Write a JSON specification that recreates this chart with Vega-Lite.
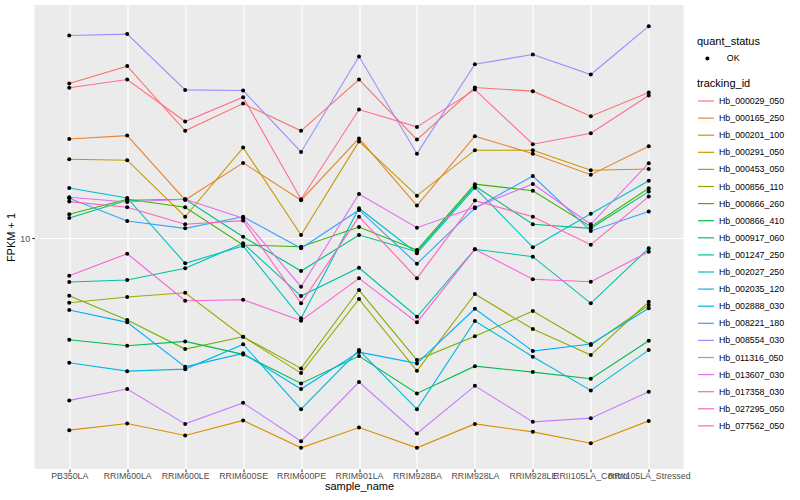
{
"$schema": "https://vega.github.io/schema/vega-lite/v6.json",
"width": 649, "height": 464,
"autosize": {"type": "none"},
"padding": {"left": 34.5, "top": 5, "right": 116.5, "bottom": 31},
"background": "white",
"datasets": {"fpkm": [
{"tracking_id":"Hb_000029_050","sample_name":"PB350LA","fpkm":24.35,"quant_status":"OK"},
{"tracking_id":"Hb_000029_050","sample_name":"RRIM600LA","fpkm":26.92,"quant_status":"OK"},
{"tracking_id":"Hb_000029_050","sample_name":"RRIM600LE","fpkm":18.55,"quant_status":"OK"},
{"tracking_id":"Hb_000029_050","sample_name":"RRIM600SE","fpkm":21.70,"quant_status":"OK"},
{"tracking_id":"Hb_000029_050","sample_name":"RRIM600PE","fpkm":18.55,"quant_status":"OK"},
{"tracking_id":"Hb_000029_050","sample_name":"RRIM901LA","fpkm":24.92,"quant_status":"OK"},
{"tracking_id":"Hb_000029_050","sample_name":"RRIM928BA","fpkm":17.64,"quant_status":"OK"},
{"tracking_id":"Hb_000029_050","sample_name":"RRIM928LA","fpkm":23.80,"quant_status":"OK"},
{"tracking_id":"Hb_000029_050","sample_name":"RRIM928LE","fpkm":23.31,"quant_status":"OK"},
{"tracking_id":"Hb_000029_050","sample_name":"RRII105LA_Control","fpkm":20.19,"quant_status":"OK"},
{"tracking_id":"Hb_000029_050","sample_name":"RRII105LA_Stressed","fpkm":23.12,"quant_status":"OK"},
{"tracking_id":"Hb_000165_250","sample_name":"PB350LA","fpkm":17.71,"quant_status":"OK"},
{"tracking_id":"Hb_000165_250","sample_name":"RRIM600LA","fpkm":18.05,"quant_status":"OK"},
{"tracking_id":"Hb_000165_250","sample_name":"RRIM600LE","fpkm":12.47,"quant_status":"OK"},
{"tracking_id":"Hb_000165_250","sample_name":"RRIM600SE","fpkm":15.43,"quant_status":"OK"},
{"tracking_id":"Hb_000165_250","sample_name":"RRIM600PE","fpkm":12.45,"quant_status":"OK"},
{"tracking_id":"Hb_000165_250","sample_name":"RRIM901LA","fpkm":17.76,"quant_status":"OK"},
{"tracking_id":"Hb_000165_250","sample_name":"RRIM928BA","fpkm":12.07,"quant_status":"OK"},
{"tracking_id":"Hb_000165_250","sample_name":"RRIM928LA","fpkm":17.99,"quant_status":"OK"},
{"tracking_id":"Hb_000165_250","sample_name":"RRIM928LE","fpkm":16.27,"quant_status":"OK"},
{"tracking_id":"Hb_000165_250","sample_name":"RRII105LA_Control","fpkm":14.42,"quant_status":"OK"},
{"tracking_id":"Hb_000165_250","sample_name":"RRII105LA_Stressed","fpkm":16.98,"quant_status":"OK"},
{"tracking_id":"Hb_000201_100","sample_name":"PB350LA","fpkm":3.317,"quant_status":"OK"},
{"tracking_id":"Hb_000201_100","sample_name":"RRIM600LA","fpkm":3.447,"quant_status":"OK"},
{"tracking_id":"Hb_000201_100","sample_name":"RRIM600LE","fpkm":3.218,"quant_status":"OK"},
{"tracking_id":"Hb_000201_100","sample_name":"RRIM600SE","fpkm":3.508,"quant_status":"OK"},
{"tracking_id":"Hb_000201_100","sample_name":"RRIM600PE","fpkm":2.996,"quant_status":"OK"},
{"tracking_id":"Hb_000201_100","sample_name":"RRIM901LA","fpkm":3.369,"quant_status":"OK"},
{"tracking_id":"Hb_000201_100","sample_name":"RRIM928BA","fpkm":2.996,"quant_status":"OK"},
{"tracking_id":"Hb_000201_100","sample_name":"RRIM928LA","fpkm":3.439,"quant_status":"OK"},
{"tracking_id":"Hb_000201_100","sample_name":"RRIM928LE","fpkm":3.285,"quant_status":"OK"},
{"tracking_id":"Hb_000201_100","sample_name":"RRII105LA_Control","fpkm":3.078,"quant_status":"OK"},
{"tracking_id":"Hb_000201_100","sample_name":"RRII105LA_Stressed","fpkm":3.499,"quant_status":"OK"},
{"tracking_id":"Hb_000291_050","sample_name":"PB350LA","fpkm":15.76,"quant_status":"OK"},
{"tracking_id":"Hb_000291_050","sample_name":"RRIM600LA","fpkm":15.67,"quant_status":"OK"},
{"tracking_id":"Hb_000291_050","sample_name":"RRIM600LE","fpkm":11.32,"quant_status":"OK"},
{"tracking_id":"Hb_000291_050","sample_name":"RRIM600SE","fpkm":16.85,"quant_status":"OK"},
{"tracking_id":"Hb_000291_050","sample_name":"RRIM600PE","fpkm":10.19,"quant_status":"OK"},
{"tracking_id":"Hb_000291_050","sample_name":"RRIM901LA","fpkm":17.46,"quant_status":"OK"},
{"tracking_id":"Hb_000291_050","sample_name":"RRIM928BA","fpkm":12.78,"quant_status":"OK"},
{"tracking_id":"Hb_000291_050","sample_name":"RRIM928LA","fpkm":16.60,"quant_status":"OK"},
{"tracking_id":"Hb_000291_050","sample_name":"RRIM928LE","fpkm":16.60,"quant_status":"OK"},
{"tracking_id":"Hb_000291_050","sample_name":"RRII105LA_Control","fpkm":14.79,"quant_status":"OK"},
{"tracking_id":"Hb_000291_050","sample_name":"RRII105LA_Stressed","fpkm":14.90,"quant_status":"OK"},
{"tracking_id":"Hb_000453_050","sample_name":"PB350LA","fpkm":6.902,"quant_status":"OK"},
{"tracking_id":"Hb_000453_050","sample_name":"RRIM600LA","fpkm":7.133,"quant_status":"OK"},
{"tracking_id":"Hb_000453_050","sample_name":"RRIM600LE","fpkm":7.312,"quant_status":"OK"},
{"tracking_id":"Hb_000453_050","sample_name":"RRIM600SE","fpkm":5.675,"quant_status":"OK"},
{"tracking_id":"Hb_000453_050","sample_name":"RRIM600PE","fpkm":4.605,"quant_status":"OK"},
{"tracking_id":"Hb_000453_050","sample_name":"RRIM901LA","fpkm":7.051,"quant_status":"OK"},
{"tracking_id":"Hb_000453_050","sample_name":"RRIM928BA","fpkm":4.666,"quant_status":"OK"},
{"tracking_id":"Hb_000453_050","sample_name":"RRIM928LA","fpkm":7.257,"quant_status":"OK"},
{"tracking_id":"Hb_000453_050","sample_name":"RRIM928LE","fpkm":5.933,"quant_status":"OK"},
{"tracking_id":"Hb_000453_050","sample_name":"RRII105LA_Control","fpkm":5.109,"quant_status":"OK"},
{"tracking_id":"Hb_000453_050","sample_name":"RRII105LA_Stressed","fpkm":6.942,"quant_status":"OK"},
{"tracking_id":"Hb_000856_110","sample_name":"PB350LA","fpkm":7.186,"quant_status":"OK"},
{"tracking_id":"Hb_000856_110","sample_name":"RRIM600LA","fpkm":6.249,"quant_status":"OK"},
{"tracking_id":"Hb_000856_110","sample_name":"RRIM600LE","fpkm":5.288,"quant_status":"OK"},
{"tracking_id":"Hb_000856_110","sample_name":"RRIM600SE","fpkm":5.675,"quant_status":"OK"},
{"tracking_id":"Hb_000856_110","sample_name":"RRIM600PE","fpkm":4.732,"quant_status":"OK"},
{"tracking_id":"Hb_000856_110","sample_name":"RRIM901LA","fpkm":7.426,"quant_status":"OK"},
{"tracking_id":"Hb_000856_110","sample_name":"RRIM928BA","fpkm":4.964,"quant_status":"OK"},
{"tracking_id":"Hb_000856_110","sample_name":"RRIM928LA","fpkm":5.689,"quant_status":"OK"},
{"tracking_id":"Hb_000856_110","sample_name":"RRIM928LE","fpkm":6.581,"quant_status":"OK"},
{"tracking_id":"Hb_000856_110","sample_name":"RRII105LA_Control","fpkm":5.411,"quant_status":"OK"},
{"tracking_id":"Hb_000856_110","sample_name":"RRII105LA_Stressed","fpkm":6.812,"quant_status":"OK"},
{"tracking_id":"Hb_000866_260","sample_name":"PB350LA","fpkm":11.48,"quant_status":"OK"},
{"tracking_id":"Hb_000866_260","sample_name":"RRIM600LA","fpkm":12.52,"quant_status":"OK"},
{"tracking_id":"Hb_000866_260","sample_name":"RRIM600LE","fpkm":11.96,"quant_status":"OK"},
{"tracking_id":"Hb_000866_260","sample_name":"RRIM600SE","fpkm":9.622,"quant_status":"OK"},
{"tracking_id":"Hb_000866_260","sample_name":"RRIM600PE","fpkm":9.528,"quant_status":"OK"},
{"tracking_id":"Hb_000866_260","sample_name":"RRIM901LA","fpkm":10.67,"quant_status":"OK"},
{"tracking_id":"Hb_000866_260","sample_name":"RRIM928BA","fpkm":9.349,"quant_status":"OK"},
{"tracking_id":"Hb_000866_260","sample_name":"RRIM928LA","fpkm":13.65,"quant_status":"OK"},
{"tracking_id":"Hb_000866_260","sample_name":"RRIM928LE","fpkm":13.15,"quant_status":"OK"},
{"tracking_id":"Hb_000866_260","sample_name":"RRII105LA_Control","fpkm":10.69,"quant_status":"OK"},
{"tracking_id":"Hb_000866_260","sample_name":"RRII105LA_Stressed","fpkm":13.34,"quant_status":"OK"},
{"tracking_id":"Hb_000866_410","sample_name":"PB350LA","fpkm":5.578,"quant_status":"OK"},
{"tracking_id":"Hb_000866_410","sample_name":"RRIM600LA","fpkm":5.389,"quant_status":"OK"},
{"tracking_id":"Hb_000866_410","sample_name":"RRIM600LE","fpkm":5.527,"quant_status":"OK"},
{"tracking_id":"Hb_000866_410","sample_name":"RRIM600SE","fpkm":5.129,"quant_status":"OK"},
{"tracking_id":"Hb_000866_410","sample_name":"RRIM600PE","fpkm":4.340,"quant_status":"OK"},
{"tracking_id":"Hb_000866_410","sample_name":"RRIM901LA","fpkm":5.079,"quant_status":"OK"},
{"tracking_id":"Hb_000866_410","sample_name":"RRIM928BA","fpkm":4.098,"quant_status":"OK"},
{"tracking_id":"Hb_000866_410","sample_name":"RRIM928LA","fpkm":4.794,"quant_status":"OK"},
{"tracking_id":"Hb_000866_410","sample_name":"RRIM928LE","fpkm":4.632,"quant_status":"OK"},
{"tracking_id":"Hb_000866_410","sample_name":"RRII105LA_Control","fpkm":4.457,"quant_status":"OK"},
{"tracking_id":"Hb_000866_410","sample_name":"RRII105LA_Stressed","fpkm":5.546,"quant_status":"OK"},
{"tracking_id":"Hb_000917_060","sample_name":"PB350LA","fpkm":11.24,"quant_status":"OK"},
{"tracking_id":"Hb_000917_060","sample_name":"RRIM600LA","fpkm":12.45,"quant_status":"OK"},
{"tracking_id":"Hb_000917_060","sample_name":"RRIM600LE","fpkm":12.52,"quant_status":"OK"},
{"tracking_id":"Hb_000917_060","sample_name":"RRIM600SE","fpkm":10.09,"quant_status":"OK"},
{"tracking_id":"Hb_000917_060","sample_name":"RRIM600PE","fpkm":8.285,"quant_status":"OK"},
{"tracking_id":"Hb_000917_060","sample_name":"RRIM901LA","fpkm":10.19,"quant_status":"OK"},
{"tracking_id":"Hb_000917_060","sample_name":"RRIM928BA","fpkm":9.258,"quant_status":"OK"},
{"tracking_id":"Hb_000917_060","sample_name":"RRIM928LA","fpkm":13.51,"quant_status":"OK"},
{"tracking_id":"Hb_000917_060","sample_name":"RRIM928LE","fpkm":10.84,"quant_status":"OK"},
{"tracking_id":"Hb_000917_060","sample_name":"RRII105LA_Control","fpkm":10.59,"quant_status":"OK"},
{"tracking_id":"Hb_000917_060","sample_name":"RRII105LA_Stressed","fpkm":13.08,"quant_status":"OK"},
{"tracking_id":"Hb_001247_250","sample_name":"PB350LA","fpkm":7.776,"quant_status":"OK"},
{"tracking_id":"Hb_001247_250","sample_name":"RRIM600LA","fpkm":7.866,"quant_status":"OK"},
{"tracking_id":"Hb_001247_250","sample_name":"RRIM600LE","fpkm":8.414,"quant_status":"OK"},
{"tracking_id":"Hb_001247_250","sample_name":"RRIM600SE","fpkm":9.717,"quant_status":"OK"},
{"tracking_id":"Hb_001247_250","sample_name":"RRIM600PE","fpkm":7.174,"quant_status":"OK"},
{"tracking_id":"Hb_001247_250","sample_name":"RRIM901LA","fpkm":8.443,"quant_status":"OK"},
{"tracking_id":"Hb_001247_250","sample_name":"RRIM928BA","fpkm":6.369,"quant_status":"OK"},
{"tracking_id":"Hb_001247_250","sample_name":"RRIM928LA","fpkm":9.387,"quant_status":"OK"},
{"tracking_id":"Hb_001247_250","sample_name":"RRIM928LE","fpkm":8.996,"quant_status":"OK"},
{"tracking_id":"Hb_001247_250","sample_name":"RRII105LA_Control","fpkm":6.879,"quant_status":"OK"},
{"tracking_id":"Hb_001247_250","sample_name":"RRII105LA_Stressed","fpkm":9.442,"quant_status":"OK"},
{"tracking_id":"Hb_002027_250","sample_name":"PB350LA","fpkm":13.36,"quant_status":"OK"},
{"tracking_id":"Hb_002027_250","sample_name":"RRIM600LA","fpkm":12.61,"quant_status":"OK"},
{"tracking_id":"Hb_002027_250","sample_name":"RRIM600LE","fpkm":8.660,"quant_status":"OK"},
{"tracking_id":"Hb_002027_250","sample_name":"RRIM600SE","fpkm":9.567,"quant_status":"OK"},
{"tracking_id":"Hb_002027_250","sample_name":"RRIM600PE","fpkm":6.310,"quant_status":"OK"},
{"tracking_id":"Hb_002027_250","sample_name":"RRIM901LA","fpkm":11.89,"quant_status":"OK"},
{"tracking_id":"Hb_002027_250","sample_name":"RRIM928BA","fpkm":9.173,"quant_status":"OK"},
{"tracking_id":"Hb_002027_250","sample_name":"RRIM928LA","fpkm":13.38,"quant_status":"OK"},
{"tracking_id":"Hb_002027_250","sample_name":"RRIM928LE","fpkm":9.496,"quant_status":"OK"},
{"tracking_id":"Hb_002027_250","sample_name":"RRII105LA_Control","fpkm":11.52,"quant_status":"OK"},
{"tracking_id":"Hb_002027_250","sample_name":"RRII105LA_Stressed","fpkm":13.93,"quant_status":"OK"},
{"tracking_id":"Hb_002035_120","sample_name":"PB350LA","fpkm":4.887,"quant_status":"OK"},
{"tracking_id":"Hb_002035_120","sample_name":"RRIM600LA","fpkm":4.658,"quant_status":"OK"},
{"tracking_id":"Hb_002035_120","sample_name":"RRIM600LE","fpkm":4.712,"quant_status":"OK"},
{"tracking_id":"Hb_002035_120","sample_name":"RRIM600SE","fpkm":5.433,"quant_status":"OK"},
{"tracking_id":"Hb_002035_120","sample_name":"RRIM600PE","fpkm":3.743,"quant_status":"OK"},
{"tracking_id":"Hb_002035_120","sample_name":"RRIM901LA","fpkm":5.257,"quant_status":"OK"},
{"tracking_id":"Hb_002035_120","sample_name":"RRIM928BA","fpkm":3.743,"quant_status":"OK"},
{"tracking_id":"Hb_002035_120","sample_name":"RRIM928LA","fpkm":6.213,"quant_status":"OK"},
{"tracking_id":"Hb_002035_120","sample_name":"RRIM928LE","fpkm":5.059,"quant_status":"OK"},
{"tracking_id":"Hb_002035_120","sample_name":"RRII105LA_Control","fpkm":4.169,"quant_status":"OK"},
{"tracking_id":"Hb_002035_120","sample_name":"RRII105LA_Stressed","fpkm":5.257,"quant_status":"OK"},
{"tracking_id":"Hb_002888_030","sample_name":"PB350LA","fpkm":6.619,"quant_status":"OK"},
{"tracking_id":"Hb_002888_030","sample_name":"RRIM600LA","fpkm":6.166,"quant_status":"OK"},
{"tracking_id":"Hb_002888_030","sample_name":"RRIM600LE","fpkm":4.775,"quant_status":"OK"},
{"tracking_id":"Hb_002888_030","sample_name":"RRIM600SE","fpkm":5.159,"quant_status":"OK"},
{"tracking_id":"Hb_002888_030","sample_name":"RRIM600PE","fpkm":4.201,"quant_status":"OK"},
{"tracking_id":"Hb_002888_030","sample_name":"RRIM901LA","fpkm":5.197,"quant_status":"OK"},
{"tracking_id":"Hb_002888_030","sample_name":"RRIM928BA","fpkm":4.870,"quant_status":"OK"},
{"tracking_id":"Hb_002888_030","sample_name":"RRIM928LA","fpkm":6.669,"quant_status":"OK"},
{"tracking_id":"Hb_002888_030","sample_name":"RRIM928LE","fpkm":5.227,"quant_status":"OK"},
{"tracking_id":"Hb_002888_030","sample_name":"RRII105LA_Control","fpkm":5.442,"quant_status":"OK"},
{"tracking_id":"Hb_002888_030","sample_name":"RRII105LA_Stressed","fpkm":6.684,"quant_status":"OK"},
{"tracking_id":"Hb_008221_180","sample_name":"PB350LA","fpkm":12.59,"quant_status":"OK"},
{"tracking_id":"Hb_008221_180","sample_name":"RRIM600LA","fpkm":11.05,"quant_status":"OK"},
{"tracking_id":"Hb_008221_180","sample_name":"RRIM600LE","fpkm":10.59,"quant_status":"OK"},
{"tracking_id":"Hb_008221_180","sample_name":"RRIM600SE","fpkm":11.32,"quant_status":"OK"},
{"tracking_id":"Hb_008221_180","sample_name":"RRIM600PE","fpkm":9.442,"quant_status":"OK"},
{"tracking_id":"Hb_008221_180","sample_name":"RRIM901LA","fpkm":11.77,"quant_status":"OK"},
{"tracking_id":"Hb_008221_180","sample_name":"RRIM928BA","fpkm":8.640,"quant_status":"OK"},
{"tracking_id":"Hb_008221_180","sample_name":"RRIM928LA","fpkm":11.89,"quant_status":"OK"},
{"tracking_id":"Hb_008221_180","sample_name":"RRIM928LE","fpkm":14.31,"quant_status":"OK"},
{"tracking_id":"Hb_008221_180","sample_name":"RRII105LA_Control","fpkm":10.43,"quant_status":"OK"},
{"tracking_id":"Hb_008221_180","sample_name":"RRII105LA_Stressed","fpkm":11.66,"quant_status":"OK"},
{"tracking_id":"Hb_008554_030","sample_name":"PB350LA","fpkm":32.10,"quant_status":"OK"},
{"tracking_id":"Hb_008554_030","sample_name":"RRIM600LA","fpkm":32.36,"quant_status":"OK"},
{"tracking_id":"Hb_008554_030","sample_name":"RRIM600LE","fpkm":23.48,"quant_status":"OK"},
{"tracking_id":"Hb_008554_030","sample_name":"RRIM600SE","fpkm":23.39,"quant_status":"OK"},
{"tracking_id":"Hb_008554_030","sample_name":"RRIM600PE","fpkm":16.43,"quant_status":"OK"},
{"tracking_id":"Hb_008554_030","sample_name":"RRIM901LA","fpkm":28.45,"quant_status":"OK"},
{"tracking_id":"Hb_008554_030","sample_name":"RRIM928BA","fpkm":16.27,"quant_status":"OK"},
{"tracking_id":"Hb_008554_030","sample_name":"RRIM928LA","fpkm":27.23,"quant_status":"OK"},
{"tracking_id":"Hb_008554_030","sample_name":"RRIM928LE","fpkm":28.77,"quant_status":"OK"},
{"tracking_id":"Hb_008554_030","sample_name":"RRII105LA_Control","fpkm":25.65,"quant_status":"OK"},
{"tracking_id":"Hb_008554_030","sample_name":"RRII105LA_Stressed","fpkm":33.88,"quant_status":"OK"},
{"tracking_id":"Hb_011316_050","sample_name":"PB350LA","fpkm":3.936,"quant_status":"OK"},
{"tracking_id":"Hb_011316_050","sample_name":"RRIM600LA","fpkm":4.201,"quant_status":"OK"},
{"tracking_id":"Hb_011316_050","sample_name":"RRIM600LE","fpkm":3.439,"quant_status":"OK"},
{"tracking_id":"Hb_011316_050","sample_name":"RRIM600SE","fpkm":3.881,"quant_status":"OK"},
{"tracking_id":"Hb_011316_050","sample_name":"RRIM600PE","fpkm":3.113,"quant_status":"OK"},
{"tracking_id":"Hb_011316_050","sample_name":"RRIM901LA","fpkm":4.373,"quant_status":"OK"},
{"tracking_id":"Hb_011316_050","sample_name":"RRIM928BA","fpkm":3.255,"quant_status":"OK"},
{"tracking_id":"Hb_011316_050","sample_name":"RRIM928LA","fpkm":4.281,"quant_status":"OK"},
{"tracking_id":"Hb_011316_050","sample_name":"RRIM928LE","fpkm":3.479,"quant_status":"OK"},
{"tracking_id":"Hb_011316_050","sample_name":"RRII105LA_Control","fpkm":3.554,"quant_status":"OK"},
{"tracking_id":"Hb_011316_050","sample_name":"RRII105LA_Stressed","fpkm":4.136,"quant_status":"OK"},
{"tracking_id":"Hb_013607_030","sample_name":"PB350LA","fpkm":12.66,"quant_status":"OK"},
{"tracking_id":"Hb_013607_030","sample_name":"RRIM600LA","fpkm":12.32,"quant_status":"OK"},
{"tracking_id":"Hb_013607_030","sample_name":"RRIM600LE","fpkm":12.52,"quant_status":"OK"},
{"tracking_id":"Hb_013607_030","sample_name":"RRIM600SE","fpkm":11.22,"quant_status":"OK"},
{"tracking_id":"Hb_013607_030","sample_name":"RRIM600PE","fpkm":7.569,"quant_status":"OK"},
{"tracking_id":"Hb_013607_030","sample_name":"RRIM901LA","fpkm":12.90,"quant_status":"OK"},
{"tracking_id":"Hb_013607_030","sample_name":"RRIM928BA","fpkm":10.63,"quant_status":"OK"},
{"tracking_id":"Hb_013607_030","sample_name":"RRIM928LA","fpkm":11.96,"quant_status":"OK"},
{"tracking_id":"Hb_013607_030","sample_name":"RRIM928LE","fpkm":13.67,"quant_status":"OK"},
{"tracking_id":"Hb_013607_030","sample_name":"RRII105LA_Control","fpkm":10.84,"quant_status":"OK"},
{"tracking_id":"Hb_013607_030","sample_name":"RRII105LA_Stressed","fpkm":15.40,"quant_status":"OK"},
{"tracking_id":"Hb_017358_030","sample_name":"PB350LA","fpkm":8.063,"quant_status":"OK"},
{"tracking_id":"Hb_017358_030","sample_name":"RRIM600LA","fpkm":9.152,"quant_status":"OK"},
{"tracking_id":"Hb_017358_030","sample_name":"RRIM600LE","fpkm":6.982,"quant_status":"OK"},
{"tracking_id":"Hb_017358_030","sample_name":"RRIM600SE","fpkm":7.023,"quant_status":"OK"},
{"tracking_id":"Hb_017358_030","sample_name":"RRIM600PE","fpkm":6.224,"quant_status":"OK"},
{"tracking_id":"Hb_017358_030","sample_name":"RRIM901LA","fpkm":7.943,"quant_status":"OK"},
{"tracking_id":"Hb_017358_030","sample_name":"RRIM928BA","fpkm":6.166,"quant_status":"OK"},
{"tracking_id":"Hb_017358_030","sample_name":"RRIM928LA","fpkm":9.387,"quant_status":"OK"},
{"tracking_id":"Hb_017358_030","sample_name":"RRIM928LE","fpkm":7.898,"quant_status":"OK"},
{"tracking_id":"Hb_017358_030","sample_name":"RRII105LA_Control","fpkm":7.789,"quant_status":"OK"},
{"tracking_id":"Hb_017358_030","sample_name":"RRII105LA_Stressed","fpkm":9.258,"quant_status":"OK"},
{"tracking_id":"Hb_027295_050","sample_name":"PB350LA","fpkm":12.35,"quant_status":"OK"},
{"tracking_id":"Hb_027295_050","sample_name":"RRIM600LA","fpkm":11.96,"quant_status":"OK"},
{"tracking_id":"Hb_027295_050","sample_name":"RRIM600LE","fpkm":10.84,"quant_status":"OK"},
{"tracking_id":"Hb_027295_050","sample_name":"RRIM600SE","fpkm":11.07,"quant_status":"OK"},
{"tracking_id":"Hb_027295_050","sample_name":"RRIM600PE","fpkm":6.879,"quant_status":"OK"},
{"tracking_id":"Hb_027295_050","sample_name":"RRIM901LA","fpkm":11.32,"quant_status":"OK"},
{"tracking_id":"Hb_027295_050","sample_name":"RRIM928BA","fpkm":7.943,"quant_status":"OK"},
{"tracking_id":"Hb_027295_050","sample_name":"RRIM928LA","fpkm":12.42,"quant_status":"OK"},
{"tracking_id":"Hb_027295_050","sample_name":"RRIM928LE","fpkm":11.32,"quant_status":"OK"},
{"tracking_id":"Hb_027295_050","sample_name":"RRII105LA_Control","fpkm":9.639,"quant_status":"OK"},
{"tracking_id":"Hb_027295_050","sample_name":"RRII105LA_Stressed","fpkm":12.71,"quant_status":"OK"},
{"tracking_id":"Hb_077562_050","sample_name":"PB350LA","fpkm":23.76,"quant_status":"OK"},
{"tracking_id":"Hb_077562_050","sample_name":"RRIM600LA","fpkm":24.92,"quant_status":"OK"},
{"tracking_id":"Hb_077562_050","sample_name":"RRIM600LE","fpkm":19.57,"quant_status":"OK"},
{"tracking_id":"Hb_077562_050","sample_name":"RRIM600SE","fpkm":22.52,"quant_status":"OK"},
{"tracking_id":"Hb_077562_050","sample_name":"RRIM600PE","fpkm":12.52,"quant_status":"OK"},
{"tracking_id":"Hb_077562_050","sample_name":"RRIM901LA","fpkm":20.97,"quant_status":"OK"},
{"tracking_id":"Hb_077562_050","sample_name":"RRIM928BA","fpkm":18.98,"quant_status":"OK"},
{"tracking_id":"Hb_077562_050","sample_name":"RRIM928LA","fpkm":23.52,"quant_status":"OK"},
{"tracking_id":"Hb_077562_050","sample_name":"RRIM928LE","fpkm":17.18,"quant_status":"OK"},
{"tracking_id":"Hb_077562_050","sample_name":"RRII105LA_Control","fpkm":18.30,"quant_status":"OK"},
{"tracking_id":"Hb_077562_050","sample_name":"RRII105LA_Stressed","fpkm":22.73,"quant_status":"OK"}
]},
"data": {"name": "fpkm"},
"encoding": {
  "x": {"field": "sample_name", "type": "nominal",
        "sort": ["PB350LA","RRIM600LA","RRIM600LE","RRIM600SE","RRIM600PE","RRIM901LA","RRIM928BA","RRIM928LA","RRIM928LE","RRII105LA_Control","RRII105LA_Stressed"],
        "scale": {"type": "point", "padding": 0.6},
        "axis": {"title": "sample_name", "labelAngle": 0, "labelOverlap": false, "labelPadding": 0, "titlePadding": 0}},
  "y": {"field": "fpkm", "type": "quantitative",
        "scale": {"type": "log", "domain": [2.653, 38.26], "nice": false, "zero": false},
        "axis": {"title": "FPKM + 1", "values": [10], "format": "d", "titlePadding": 3}}
},
"layer": [
  {"mark": {"type": "line", "strokeWidth": 1.1},
   "encoding": {
     "order": {"value": null},
     "color": {"field": "tracking_id", "type": "nominal",
       "scale": {"domain": ["Hb_000029_050","Hb_000165_250","Hb_000201_100","Hb_000291_050","Hb_000453_050","Hb_000856_110","Hb_000866_260","Hb_000866_410","Hb_000917_060","Hb_001247_250","Hb_002027_250","Hb_002035_120","Hb_002888_030","Hb_008221_180","Hb_008554_030","Hb_011316_050","Hb_013607_030","Hb_017358_030","Hb_027295_050","Hb_077562_050"],
                 "range": ["#F8766D","#EA8331","#D89000","#C09B00","#A3A500","#7CAE00","#39B600","#00BB4E","#00BF7D","#00C1A3","#00BFC4","#00BAE0","#00B0F6","#35A2FF","#9590FF","#C77CFF","#E76BF3","#FA62DB","#FF62BC","#FF6C91"]},
       "legend": {"orient": "none", "legendX": 662.5, "legendY": 73, "title": "tracking_id", "symbolType": "stroke", "symbolSize": 256, "symbolStrokeWidth": 1.2, "labelOffset": 4, "rowPadding": 3.1, "titlePadding": 3}}
   }},
  {"mark": {"type": "point", "filled": true, "color": "black", "size": 16, "opacity": 1},
   "encoding": {
     "shape": {"field": "quant_status", "type": "nominal", "scale": {"range": ["circle"]},
       "legend": {"orient": "none", "legendX": 662.5, "legendY": 31, "title": "quant_status", "symbolSize": 16, "symbolOffset": 6, "labelOffset": 15, "titlePadding": 7}}
   }}
],
"config": {
  "view": {"fill": "#EBEBEB", "stroke": null},
  "font": "Liberation Sans",
  "axis": {"domain": false, "grid": true, "gridColor": "#FFFFFF", "gridWidth": 1.2, "tickColor": "#333333", "tickSize": 2.75, "tickWidth": 1.1, "labelColor": "#4D4D4D", "labelFontSize": 8.8, "labelFont": "Liberation Sans", "labelPadding": 2.2, "titleFont": "Liberation Sans", "titleFontSize": 11, "titleFontWeight": "normal", "titleColor": "#000000"},
  "legend": {"titleFont": "Liberation Sans", "titleFontSize": 11, "titleFontWeight": "normal", "titleColor": "#000000", "labelFont": "Liberation Sans", "labelFontSize": 8.8, "labelColor": "#000000"}
}
}
